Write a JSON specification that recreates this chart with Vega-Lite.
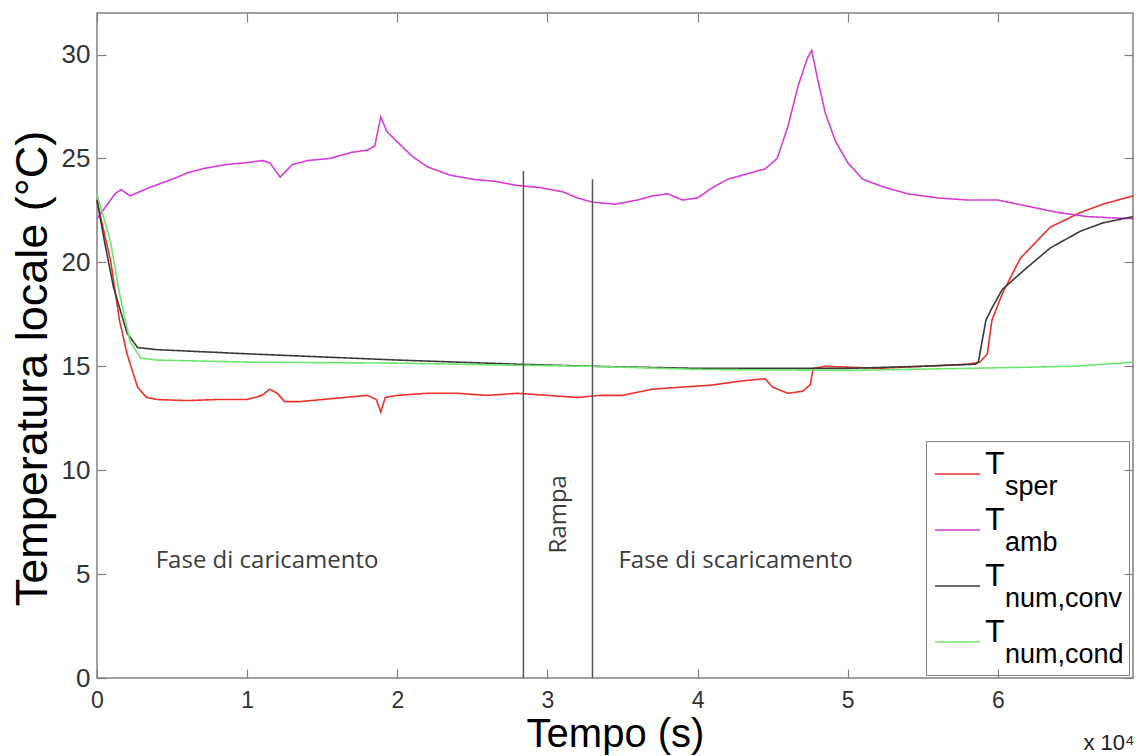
{
  "$schema": "https://vega.github.io/schema/vega-lite/v6.json",
  "width": 1036,
  "height": 665,
  "autosize": {"type": "none"},
  "padding": {"left": 97, "top": 13, "right": 4, "bottom": 78},
  "background": "white",
  "config": {
    "view": {"stroke": "#808080", "strokeWidth": 1.5},
    "font": "Liberation Sans",
    "axis": {"grid": false, "domain": false, "tickColor": "#808080", "tickWidth": 1.2, "labelFont": "Liberation Sans", "titleFont": "Liberation Sans", "labelColor": "#333333", "titleColor": "#000000", "titleFontWeight": "normal"}
  },
  "datasets": {
    "misure": [
      {"serie": "T_sper", "t": 0, "temp": 23.0},
      {"serie": "T_sper", "t": 300, "temp": 22.0},
      {"serie": "T_sper", "t": 900, "temp": 20.1},
      {"serie": "T_sper", "t": 1500, "temp": 17.2},
      {"serie": "T_sper", "t": 2000, "temp": 15.6},
      {"serie": "T_sper", "t": 2700, "temp": 14.0},
      {"serie": "T_sper", "t": 3300, "temp": 13.5},
      {"serie": "T_sper", "t": 4000, "temp": 13.4},
      {"serie": "T_sper", "t": 6000, "temp": 13.35},
      {"serie": "T_sper", "t": 8000, "temp": 13.4},
      {"serie": "T_sper", "t": 10000, "temp": 13.4},
      {"serie": "T_sper", "t": 11000, "temp": 13.6},
      {"serie": "T_sper", "t": 11500, "temp": 13.9},
      {"serie": "T_sper", "t": 12000, "temp": 13.7},
      {"serie": "T_sper", "t": 12500, "temp": 13.3},
      {"serie": "T_sper", "t": 13500, "temp": 13.3},
      {"serie": "T_sper", "t": 15000, "temp": 13.4},
      {"serie": "T_sper", "t": 16500, "temp": 13.5},
      {"serie": "T_sper", "t": 18000, "temp": 13.6},
      {"serie": "T_sper", "t": 18600, "temp": 13.4},
      {"serie": "T_sper", "t": 18900, "temp": 12.8},
      {"serie": "T_sper", "t": 19200, "temp": 13.5},
      {"serie": "T_sper", "t": 20000, "temp": 13.6},
      {"serie": "T_sper", "t": 22000, "temp": 13.7},
      {"serie": "T_sper", "t": 24000, "temp": 13.7},
      {"serie": "T_sper", "t": 26000, "temp": 13.6},
      {"serie": "T_sper", "t": 28000, "temp": 13.7},
      {"serie": "T_sper", "t": 30000, "temp": 13.6},
      {"serie": "T_sper", "t": 32000, "temp": 13.5},
      {"serie": "T_sper", "t": 33500, "temp": 13.6},
      {"serie": "T_sper", "t": 35000, "temp": 13.6},
      {"serie": "T_sper", "t": 37000, "temp": 13.9},
      {"serie": "T_sper", "t": 39000, "temp": 14.0},
      {"serie": "T_sper", "t": 41000, "temp": 14.1},
      {"serie": "T_sper", "t": 43000, "temp": 14.3},
      {"serie": "T_sper", "t": 44500, "temp": 14.4},
      {"serie": "T_sper", "t": 45000, "temp": 14.0},
      {"serie": "T_sper", "t": 46000, "temp": 13.7},
      {"serie": "T_sper", "t": 47000, "temp": 13.8},
      {"serie": "T_sper", "t": 47500, "temp": 14.1},
      {"serie": "T_sper", "t": 47700, "temp": 14.9},
      {"serie": "T_sper", "t": 48500, "temp": 15.0},
      {"serie": "T_sper", "t": 52000, "temp": 14.9},
      {"serie": "T_sper", "t": 55000, "temp": 15.0},
      {"serie": "T_sper", "t": 58000, "temp": 15.1},
      {"serie": "T_sper", "t": 58800, "temp": 15.2},
      {"serie": "T_sper", "t": 59300, "temp": 15.6},
      {"serie": "T_sper", "t": 59600, "temp": 17.2},
      {"serie": "T_sper", "t": 60300, "temp": 18.5},
      {"serie": "T_sper", "t": 61500, "temp": 20.2},
      {"serie": "T_sper", "t": 63500, "temp": 21.7},
      {"serie": "T_sper", "t": 65500, "temp": 22.4},
      {"serie": "T_sper", "t": 67000, "temp": 22.8},
      {"serie": "T_sper", "t": 69000, "temp": 23.2},

      {"serie": "T_amb", "t": 0, "temp": 22.1},
      {"serie": "T_amb", "t": 500, "temp": 22.6},
      {"serie": "T_amb", "t": 1200, "temp": 23.3},
      {"serie": "T_amb", "t": 1600, "temp": 23.5},
      {"serie": "T_amb", "t": 2200, "temp": 23.2},
      {"serie": "T_amb", "t": 3500, "temp": 23.6},
      {"serie": "T_amb", "t": 5000, "temp": 24.0},
      {"serie": "T_amb", "t": 6000, "temp": 24.3},
      {"serie": "T_amb", "t": 7000, "temp": 24.5},
      {"serie": "T_amb", "t": 8500, "temp": 24.7},
      {"serie": "T_amb", "t": 10000, "temp": 24.8},
      {"serie": "T_amb", "t": 11000, "temp": 24.9},
      {"serie": "T_amb", "t": 11500, "temp": 24.8},
      {"serie": "T_amb", "t": 12200, "temp": 24.1},
      {"serie": "T_amb", "t": 13000, "temp": 24.7},
      {"serie": "T_amb", "t": 14000, "temp": 24.9},
      {"serie": "T_amb", "t": 15500, "temp": 25.0},
      {"serie": "T_amb", "t": 17000, "temp": 25.3},
      {"serie": "T_amb", "t": 18000, "temp": 25.4},
      {"serie": "T_amb", "t": 18500, "temp": 25.6},
      {"serie": "T_amb", "t": 18900, "temp": 27.0},
      {"serie": "T_amb", "t": 19300, "temp": 26.3},
      {"serie": "T_amb", "t": 20000, "temp": 25.8},
      {"serie": "T_amb", "t": 21000, "temp": 25.1},
      {"serie": "T_amb", "t": 22000, "temp": 24.6},
      {"serie": "T_amb", "t": 23500, "temp": 24.2},
      {"serie": "T_amb", "t": 25000, "temp": 24.0},
      {"serie": "T_amb", "t": 26500, "temp": 23.9},
      {"serie": "T_amb", "t": 28000, "temp": 23.7},
      {"serie": "T_amb", "t": 29500, "temp": 23.6},
      {"serie": "T_amb", "t": 31000, "temp": 23.4},
      {"serie": "T_amb", "t": 32000, "temp": 23.1},
      {"serie": "T_amb", "t": 33000, "temp": 22.9},
      {"serie": "T_amb", "t": 34500, "temp": 22.8},
      {"serie": "T_amb", "t": 36000, "temp": 23.0},
      {"serie": "T_amb", "t": 37000, "temp": 23.2},
      {"serie": "T_amb", "t": 38000, "temp": 23.3},
      {"serie": "T_amb", "t": 39000, "temp": 23.0},
      {"serie": "T_amb", "t": 40000, "temp": 23.1},
      {"serie": "T_amb", "t": 41000, "temp": 23.6},
      {"serie": "T_amb", "t": 42000, "temp": 24.0},
      {"serie": "T_amb", "t": 43500, "temp": 24.3},
      {"serie": "T_amb", "t": 44500, "temp": 24.5},
      {"serie": "T_amb", "t": 45300, "temp": 25.0},
      {"serie": "T_amb", "t": 46000, "temp": 26.5},
      {"serie": "T_amb", "t": 46700, "temp": 28.5},
      {"serie": "T_amb", "t": 47300, "temp": 29.8},
      {"serie": "T_amb", "t": 47600, "temp": 30.2},
      {"serie": "T_amb", "t": 48000, "temp": 28.8},
      {"serie": "T_amb", "t": 48500, "temp": 27.2},
      {"serie": "T_amb", "t": 49200, "temp": 25.8},
      {"serie": "T_amb", "t": 50000, "temp": 24.8},
      {"serie": "T_amb", "t": 51000, "temp": 24.0},
      {"serie": "T_amb", "t": 52500, "temp": 23.6},
      {"serie": "T_amb", "t": 54000, "temp": 23.3},
      {"serie": "T_amb", "t": 56000, "temp": 23.1},
      {"serie": "T_amb", "t": 58000, "temp": 23.0},
      {"serie": "T_amb", "t": 60000, "temp": 23.0},
      {"serie": "T_amb", "t": 62000, "temp": 22.7},
      {"serie": "T_amb", "t": 64000, "temp": 22.4},
      {"serie": "T_amb", "t": 66000, "temp": 22.2},
      {"serie": "T_amb", "t": 69000, "temp": 22.1},

      {"serie": "T_num,conv", "t": 0, "temp": 23.0},
      {"serie": "T_num,conv", "t": 500, "temp": 21.0},
      {"serie": "T_num,conv", "t": 1100, "temp": 18.8},
      {"serie": "T_num,conv", "t": 2000, "temp": 16.6},
      {"serie": "T_num,conv", "t": 2700, "temp": 15.9},
      {"serie": "T_num,conv", "t": 4000, "temp": 15.8},
      {"serie": "T_num,conv", "t": 10000, "temp": 15.6},
      {"serie": "T_num,conv", "t": 20000, "temp": 15.3},
      {"serie": "T_num,conv", "t": 28000, "temp": 15.1},
      {"serie": "T_num,conv", "t": 33000, "temp": 15.0},
      {"serie": "T_num,conv", "t": 40000, "temp": 14.9},
      {"serie": "T_num,conv", "t": 50000, "temp": 14.9},
      {"serie": "T_num,conv", "t": 55000, "temp": 15.0},
      {"serie": "T_num,conv", "t": 58500, "temp": 15.1},
      {"serie": "T_num,conv", "t": 58700, "temp": 15.2},
      {"serie": "T_num,conv", "t": 59200, "temp": 17.2},
      {"serie": "T_num,conv", "t": 59600, "temp": 17.8},
      {"serie": "T_num,conv", "t": 60300, "temp": 18.7},
      {"serie": "T_num,conv", "t": 61700, "temp": 19.6},
      {"serie": "T_num,conv", "t": 63500, "temp": 20.7},
      {"serie": "T_num,conv", "t": 65500, "temp": 21.5},
      {"serie": "T_num,conv", "t": 67000, "temp": 21.9},
      {"serie": "T_num,conv", "t": 69000, "temp": 22.2},

      {"serie": "T_num,cond", "t": 0, "temp": 23.3},
      {"serie": "T_num,cond", "t": 900, "temp": 21.0},
      {"serie": "T_num,cond", "t": 1500, "temp": 18.5},
      {"serie": "T_num,cond", "t": 2200, "temp": 16.2},
      {"serie": "T_num,cond", "t": 2900, "temp": 15.4},
      {"serie": "T_num,cond", "t": 4000, "temp": 15.3},
      {"serie": "T_num,cond", "t": 10000, "temp": 15.2},
      {"serie": "T_num,cond", "t": 20000, "temp": 15.15},
      {"serie": "T_num,cond", "t": 28000, "temp": 15.05},
      {"serie": "T_num,cond", "t": 33000, "temp": 15.0},
      {"serie": "T_num,cond", "t": 40000, "temp": 14.85},
      {"serie": "T_num,cond", "t": 50000, "temp": 14.8},
      {"serie": "T_num,cond", "t": 58000, "temp": 14.9},
      {"serie": "T_num,cond", "t": 65000, "temp": 15.0},
      {"serie": "T_num,cond", "t": 69000, "temp": 15.2}
    ],
    "fasi": [
      {"t": 28400, "top": 24.4},
      {"t": 33000, "top": 24.0}
    ],
    "note": [
      {"t": 11330, "temp": 5.29, "testo": "Fase di caricamento"},
      {"t": 42530, "temp": 5.29, "testo": "Fase di scaricamento"}
    ],
    "rampa": [
      {"t": 30800, "temp": 7.88, "testo": "Rampa"}
    ]
  },
  "layer": [
    {
      "data": {"name": "misure"},
      "transform": [{"calculate": "replace(datum.serie, 'T_', '')", "as": "pedice"}],
      "mark": {"type": "line", "strokeWidth": 1.6},
      "encoding": {
        "x": {
          "field": "t", "type": "quantitative",
          "scale": {"domain": [0, 69000], "nice": false, "zero": false},
          "axis": {
            "orient": "bottom",
            "values": [0, 10000, 20000, 30000, 40000, 50000, 60000],
            "labelExpr": "'' + datum.value / 10000",
            "tickSize": -9, "labelPadding": 20, "labelFontSize": 23, "labelFlush": false,
            "title": "Tempo (s)", "titleFontSize": 40, "titleY": 68, "titleBaseline": "alphabetic"
          }
        },
        "y": {
          "field": "temp", "type": "quantitative",
          "scale": {"domain": [0, 32], "nice": false},
          "axis": {
            "orient": "left",
            "values": [0, 5, 10, 15, 20, 25, 30],
            "tickSize": -9, "labelPadding": 16, "labelFontSize": 26, "labelFlush": false,
            "title": "Temperatura locale (°C)", "titleFontSize": 45,
            "titleX": -51, "titleY": 355, "titleBaseline": "alphabetic", "titleAngle": 270
          }
        },
        "color": {
          "field": "serie", "type": "nominal",
          "scale": {"domain": ["T_sper", "T_amb", "T_num,conv", "T_num,cond"], "range": ["#e8322c", "#d63cd6", "#3a3a3a", "#6ee66e"]},
          "legend": {
            "title": null, "orient": "none", "legendX": 829, "legendY": 428, "padding": 5,
            "symbolType": "stroke", "symbolSize": 2025, "symbolStrokeWidth": 1.5, "symbolOffset": 3,
            "clipHeight": 56, "rowPadding": 0,
            "labelExpr": "'T'", "labelFont": "Liberation Sans", "labelFontSize": 32, "labelColor": "#000000",
            "labelBaseline": "alphabetic", "labelOffset": 4
          }
        },
        "strokeDash": {
          "field": "pedice", "type": "nominal",
          "scale": {"domain": ["sper", "amb", "num,conv", "num,cond"], "range": [[1, 0], [1, 0], [1, 0], [1, 0]]},
          "legend": {
            "title": null, "orient": "none", "legendX": 829, "legendY": 428, "padding": 5,
            "symbolType": "stroke", "symbolSize": 2025, "symbolStrokeWidth": 1.5, "symbolOpacity": 0,
            "clipHeight": 56, "rowPadding": 0,
            "labelFont": "Liberation Sans", "labelFontSize": 27, "labelColor": "#000000",
            "labelBaseline": "top", "labelOffset": 27, "labelLimit": 300,
            "strokeColor": "#808080"
          }
        }
      }
    },
    {
      "data": {"name": "fasi"},
      "mark": {"type": "rule", "color": "#555555", "strokeWidth": 1.5},
      "encoding": {
        "x": {
          "field": "t", "type": "quantitative",
          "axis": {
            "orient": "top",
            "values": [0, 10000, 20000, 30000, 40000, 50000, 60000],
            "tickSize": -9, "labels": false,
            "title": "x 10⁴", "titleX": 986, "titleY": 736, "titleAlign": "left", "titleAngle": 0,
            "titleBaseline": "alphabetic", "titleFontSize": 22, "titleColor": "#222222"
          }
        },
        "y": {
          "field": "top", "type": "quantitative",
          "axis": {"orient": "right", "values": [0, 5, 10, 15, 20, 25, 30], "tickSize": -9, "labels": false, "title": null}
        },
        "y2": {"datum": 0}
      }
    },
    {
      "data": {"name": "note"},
      "mark": {"type": "text", "font": "Open Sans", "fontSize": 24, "color": "#3c3c3c", "align": "center", "baseline": "alphabetic"},
      "encoding": {
        "x": {"field": "t", "type": "quantitative", "axis": null},
        "y": {"field": "temp", "type": "quantitative", "axis": null},
        "text": {"field": "testo"}
      }
    },
    {
      "data": {"name": "rampa"},
      "mark": {"type": "text", "font": "Open Sans", "fontSize": 24, "color": "#3c3c3c", "align": "center", "baseline": "middle", "angle": 270},
      "encoding": {
        "x": {"field": "t", "type": "quantitative", "axis": null},
        "y": {"field": "temp", "type": "quantitative", "axis": null},
        "text": {"field": "testo"}
      }
    }
  ],
  "resolve": {"axis": {"x": "independent", "y": "independent"}}
}
